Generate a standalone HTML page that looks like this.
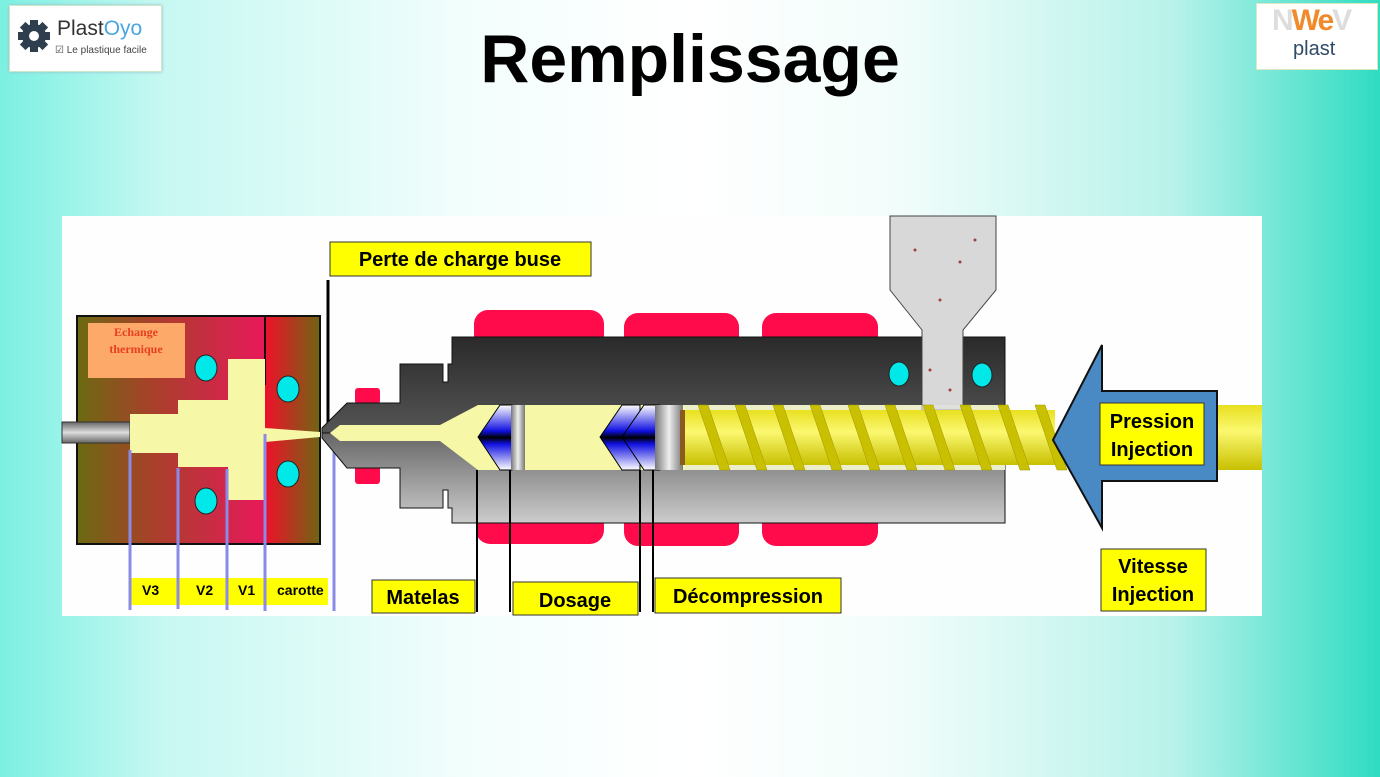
<!DOCTYPE html>
<html><head><meta charset="utf-8"><style>
html,body{margin:0;padding:0}
body{width:1380px;height:777px;overflow:hidden;position:relative;font-family:"Liberation Sans",sans-serif;
background:linear-gradient(90deg,#7cf0e2 0%,#c8f8f2 12%,#f4fefd 35%,#ffffff 50%,#f2fdfb 65%,#b8f2ea 85%,#2fdcc2 100%);}
.t{position:absolute;left:0;width:1380px;top:20px;text-align:center;font-size:68px;font-weight:bold;color:#000;}
</style></head><body>
<div style="position:absolute;left:9px;top:5px;width:151px;height:65px;background:#fff;border:1px solid #cde8c8;box-shadow:0 0 3px #9bc"></div>
<svg style="position:absolute;left:14px;top:14px" width="40" height="40" viewBox="0 0 40 40"><g fill="#2f3e4e"><circle cx="20" cy="22" r="12"/><rect x="16" y="6" width="8" height="32"/><rect x="4" y="18" width="32" height="8"/><rect x="16" y="6" width="8" height="32" transform="rotate(45 20 22)"/><rect x="16" y="6" width="8" height="32" transform="rotate(-45 20 22)"/></g><circle cx="20" cy="22" r="5" fill="#fff"/></svg>
<div style="position:absolute;left:57px;top:17px;font-size:21px;color:#333">Plast<span style="color:#4aa6e0">Oyo</span></div>
<div style="position:absolute;left:55px;top:45px;font-size:10px;color:#444">☑ Le plastique facile</div>
<div style="position:absolute;left:1256px;top:3px;width:120px;height:65px;background:#fff;border:1px solid #d8e8c0"></div>
<div style="position:absolute;left:1272px;top:4px;font-size:30px;font-weight:bold;color:#f08a2a;letter-spacing:-2px"><span style="color:#ddd">N</span>We<span style="color:#ddd">V</span></div>
<div style="position:absolute;left:1293px;top:38px;font-size:20px;color:#2e4a66">plast</div>
<div class="t">Remplissage</div>
<svg style="position:absolute;left:0;top:0" width="1380" height="777" viewBox="0 0 1380 777">
<defs>
<linearGradient id="mold" x1="0" x2="1"><stop offset="0" stop-color="#6b6a12"/><stop offset="0.4" stop-color="#a8402a"/><stop offset="1" stop-color="#e8195a"/></linearGradient>
<linearGradient id="mold2" x1="0" x2="1"><stop offset="0" stop-color="#f0102a"/><stop offset="1" stop-color="#6e6612"/></linearGradient>
<linearGradient id="top" x1="0" y1="0" x2="0" y2="1"><stop offset="0" stop-color="#2a2a2a"/><stop offset="1" stop-color="#555"/></linearGradient>
<linearGradient id="bot" x1="0" y1="0" x2="0" y2="1"><stop offset="0" stop-color="#666"/><stop offset="1" stop-color="#ccc"/></linearGradient>
<linearGradient id="scr" x1="0" y1="0" x2="0" y2="1"><stop offset="0" stop-color="#e8e020"/><stop offset="0.4" stop-color="#fbf870"/><stop offset="1" stop-color="#c8c000"/></linearGradient>
<linearGradient id="rod" x1="0" y1="0" x2="0" y2="1"><stop offset="0" stop-color="#666"/><stop offset="0.5" stop-color="#ddd"/><stop offset="1" stop-color="#666"/></linearGradient>
<linearGradient id="cone" x1="0" y1="0" x2="0" y2="1"><stop offset="0" stop-color="#fff"/><stop offset="0.4" stop-color="#1010e0"/><stop offset="0.5" stop-color="#000"/><stop offset="0.6" stop-color="#1010e0"/><stop offset="1" stop-color="#fff"/></linearGradient>
<linearGradient id="ring" x1="0" x2="1"><stop offset="0" stop-color="#777"/><stop offset="0.5" stop-color="#eee"/><stop offset="1" stop-color="#777"/></linearGradient>
</defs>
<rect x="62" y="216" width="1200" height="400" fill="#fefefe"/>
<rect x="77" y="316" width="188" height="228" fill="url(#mold)"/>
<rect x="265" y="316" width="55" height="228" fill="url(#mold2)"/>
<rect x="77" y="316" width="243" height="228" fill="none" stroke="#111" stroke-width="2"/>
<line x1="265" y1="316" x2="265" y2="385" stroke="#111" stroke-width="2"/>
<rect x="88" y="323" width="97" height="55" fill="#fca96a"/>
<text x="136" y="336" font-family="Liberation Serif" font-weight="bold" font-size="12" fill="#e84020" text-anchor="middle">Echange</text>
<text x="136" y="353" font-family="Liberation Serif" font-weight="bold" font-size="12" fill="#e84020" text-anchor="middle">thermique</text>
<rect x="62" y="422" width="68" height="21" fill="url(#rod)" stroke="#333"/>
<path d="M130 414H178V400H228V359H265V428L320 432V437L265 442V500H228V467H178V453H130Z" fill="#f6f8a8"/>
<g fill="#00e8e8" stroke="#222"><ellipse cx="206" cy="368" rx="11" ry="13"/><ellipse cx="288" cy="389" rx="11" ry="13"/><ellipse cx="288" cy="474" rx="11" ry="13"/><ellipse cx="206" cy="501" rx="11" ry="13"/></g>
<rect x="130" y="578" width="198" height="27" fill="#ffff00"/>
<g stroke="#8a8ae8" stroke-width="3"><line x1="130" y1="450" x2="130" y2="610"/><line x1="178" y1="468" x2="178" y2="609"/><line x1="227" y1="469" x2="227" y2="610"/><line x1="265" y1="434" x2="265" y2="611"/><line x1="334" y1="434" x2="334" y2="611"/></g>
<g font-weight="bold" font-size="14" fill="#000"><text x="142" y="595">V3</text><text x="196" y="595">V2</text><text x="238" y="595">V1</text><text x="277" y="595">carotte</text></g>
<line x1="328" y1="280" x2="328" y2="430" stroke="#000" stroke-width="3"/>
<rect x="330" y="242" width="261" height="34" fill="#ffff00" stroke="#333"/>
<text x="460" y="266" font-weight="bold" font-size="20" text-anchor="middle">Perte de charge buse</text>
<g fill="#ff0a4a"><rect x="474" y="310" width="130" height="60" rx="14"/><rect x="624" y="313" width="115" height="60" rx="14"/><rect x="762" y="313" width="116" height="60" rx="14"/>
<rect x="476" y="490" width="128" height="54" rx="14"/><rect x="624" y="490" width="115" height="56" rx="14"/><rect x="762" y="490" width="116" height="56" rx="14"/>
<rect x="355" y="388" width="25" height="16" rx="3"/><rect x="355" y="462" width="25" height="22" rx="3"/></g>
<path d="M322 433V428L347 403H400V364H443V382H448V364H452V337H1005V433Z" fill="url(#top)" stroke="#111"/>
<path d="M322 433V438L347 468H400V508H443V490H448V508H452V523H1005V433Z" fill="url(#bot)" stroke="#111"/>
<path d="M330 433L340 425H440L478 405H1005V470H478L440 441H340Z" fill="#f6f8a8"/>
<path d="M478 437L500 405H512V470H500Z" fill="url(#cone)" stroke="#000"/>
<rect x="511" y="405" width="14" height="65" fill="url(#ring)"/>
<path d="M600 437L622 405H640V470H622Z" fill="url(#cone)" stroke="#000"/>
<path d="M622 437L644 405H660V470H644Z" fill="url(#cone)" stroke="#000"/>
<rect x="655" y="405" width="28" height="65" fill="url(#ring)"/>
<rect x="680" y="410" width="5" height="55" fill="#8a5a20"/>
<path d="M890 216H996V290L963 330V410H922V330L890 290Z" fill="#d8d8d8" stroke="#444"/>
<g fill="#a04040"><circle cx="915" cy="250" r="1.5"/><circle cx="960" cy="262" r="1.5"/><circle cx="940" cy="300" r="1.5"/><circle cx="930" cy="370" r="1.5"/><circle cx="975" cy="240" r="1.5"/><circle cx="950" cy="390" r="1.5"/></g>
<rect x="685" y="405" width="320" height="65" fill="#e6e6e0" opacity="0.6"/>
<rect x="685" y="410" width="370" height="55" fill="url(#scr)"/>
<g fill="#c8c000" stroke="#a09800" stroke-width="0.5">
<path d="M698 405h10l22 65h-10z"/><path d="M735 405h10l22 65h-10z"/><path d="M773 405h10l22 65h-10z"/><path d="M810 405h10l22 65h-10z"/><path d="M848 405h10l22 65h-10z"/><path d="M885 405h10l22 65h-10z"/><path d="M923 405h10l22 65h-10z"/><path d="M960 405h10l22 65h-10z"/><path d="M998 405h10l22 65h-10z"/><path d="M1035 405h10l22 65h-10z"/></g>
<g fill="#00e8e8" stroke="#222"><ellipse cx="899" cy="374" rx="10" ry="12"/><ellipse cx="982" cy="375" rx="10" ry="12"/></g>
<rect x="1217" y="405" width="45" height="65" fill="url(#scr)"/>
<path d="M1053 440L1102 345V391H1217V481H1102V528Z" fill="#4a8ac4" stroke="#111" stroke-width="2"/>
<rect x="1100" y="403" width="104" height="62" fill="#ffff00" stroke="#333"/>
<text x="1152" y="428" font-weight="bold" font-size="20" text-anchor="middle">Pression</text>
<text x="1152" y="456" font-weight="bold" font-size="20" text-anchor="middle">Injection</text>
<rect x="1101" y="549" width="105" height="62" fill="#ffff00" stroke="#333"/>
<text x="1153" y="573" font-weight="bold" font-size="20" text-anchor="middle">Vitesse</text>
<text x="1153" y="601" font-weight="bold" font-size="20" text-anchor="middle">Injection</text>
<g stroke="#000" stroke-width="2"><line x1="477" y1="470" x2="477" y2="612"/><line x1="510" y1="470" x2="510" y2="612"/><line x1="640" y1="470" x2="640" y2="612"/><line x1="653" y1="470" x2="653" y2="612"/></g>
<rect x="372" y="580" width="103" height="33" fill="#ffff00" stroke="#333"/>
<text x="423" y="604" font-weight="bold" font-size="20" text-anchor="middle">Matelas</text>
<rect x="513" y="582" width="125" height="33" fill="#ffff00" stroke="#333"/>
<text x="575" y="607" font-weight="bold" font-size="20" text-anchor="middle">Dosage</text>
<rect x="655" y="578" width="186" height="35" fill="#ffff00" stroke="#333"/>
<text x="748" y="603" font-weight="bold" font-size="20" text-anchor="middle">Décompression</text>
</svg>
</body></html>
